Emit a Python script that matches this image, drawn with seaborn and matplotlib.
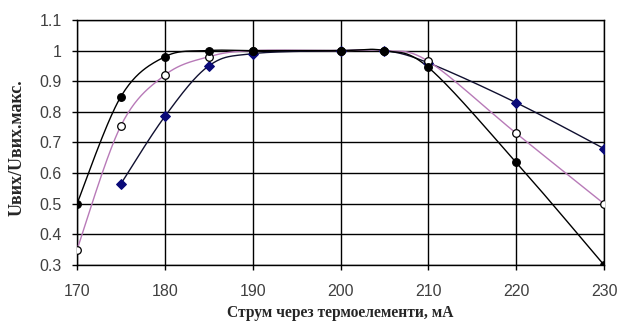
import numpy as np
import pandas as pd
import matplotlib
matplotlib.use("Agg")
import matplotlib.pyplot as plt
import seaborn as sns

# ---- data ----
x_black = [170, 175, 180, 185, 190, 200, 205, 210, 220, 230]
y_black = [0.50, 0.85, 0.98, 1.00, 1.00, 1.00, 1.00, 0.945, 0.635, 0.30]

x_open = [170, 175, 180, 185, 190, 200, 205, 210, 220, 230]
y_open = [0.35, 0.755, 0.92, 0.98, 1.00, 1.00, 1.00, 0.965, 0.73, 0.50]

x_diam = [175, 180, 185, 190, 200, 205, 210, 220, 230]
y_diam = [0.565, 0.785, 0.95, 0.99, 1.00, 1.00, 0.96, 0.83, 0.68]

x_ticks = [170, 180, 190, 200, 210, 220, 230]
y_ticks = [0.3, 0.4, 0.5, 0.6, 0.7, 0.8, 0.9, 1.0, 1.1]
y_tick_labels = ["0.3", "0.4", "0.5", "0.6", "0.7", "0.8", "0.9", "1", "1.1"]

xlabel = "Струм через термоелементи, мА"
ylabel = "Uвих/Uвих.макс."


def smooth(xs, ys, sx=60.0, sy=1.72, n=40):
    """Excel-like parametric Bezier smoothing through the data points."""
    P = np.column_stack([np.asarray(xs, float) / sx, np.asarray(ys, float) / sy])
    out = []
    for i in range(len(P) - 1):
        p0 = P[i - 1] if i > 0 else P[i]
        p1 = P[i]
        p2 = P[i + 1]
        p3 = P[i + 2] if i + 2 < len(P) else P[i + 1]
        c1 = p1 + (p2 - p0) / 6.0
        c2 = p2 - (p3 - p1) / 6.0
        t = np.linspace(0, 1, n)[:, None]
        seg = ((1 - t) ** 3) * p1 + 3 * ((1 - t) ** 2) * t * c1 + 3 * (1 - t) * t ** 2 * c2 + t ** 3 * p2
        out.append(seg if i == 0 else seg[1:])
    pts = np.vstack(out)
    return pts[:, 0] * sx, pts[:, 1] * sy


sns.set_style("white")
plt.rcParams["font.family"] = ["Liberation Sans", "DejaVu Sans"]

fig = plt.figure(figsize=(6.24, 3.22), dpi=100)
ax = fig.add_axes([0.1234, 0.177, 0.8446, 0.761])

# drawn bottom to top: diamonds, open circles, filled circles
series = [
    (x_diam, y_diam, "#101030", "D", "#0a0a78", "#0a0a78"),
    (x_open, y_open, "#b87ab8", "o", "white", "#000000"),
    (x_black, y_black, "#000000", "o", "#000000", "#000000"),
]

for xs, ys, lc, mk, fc, ec in series:
    cx, cy = smooth(xs, ys)
    sns.lineplot(x=cx, y=cy, ax=ax, color=lc, linewidth=1.0, sort=False,
                 estimator=None, zorder=3)
for k, (xs, ys, lc, mk, fc, ec) in enumerate(series):
    sns.scatterplot(x=xs, y=ys, ax=ax, marker=mk, s=30 if mk == "o" else 24,
                    color=fc, edgecolor=ec, linewidth=0.9, zorder=4 + k)

ax.set_xlim(170, 230)
ax.set_ylim(0.3, 1.1)
ax.set_xticks(x_ticks)
ax.set_yticks(y_ticks)
ax.set_yticklabels(y_tick_labels)
ax.grid(True, color="#000000", linewidth=1.0)
ax.set_axisbelow(True)
for sp in ax.spines.values():
    sp.set_visible(True)
    sp.set_color("#000000")
    sp.set_linewidth(1.0)
ax.tick_params(axis="both", labelsize=11.5, length=3.6, width=1.0, direction="out",
               color="#000000", labelcolor="#404040", bottom=True, left=True)
ax.tick_params(axis="x", pad=10.4)
ax.tick_params(axis="y", pad=7.4)

ax.set_xlabel(xlabel, fontsize=11.2, fontweight="bold", family=["Liberation Serif"])
ax.set_ylabel(ylabel, fontsize=13, fontweight="bold", family=["Liberation Serif"])
ax.xaxis.set_label_coords(0.5, -0.163)
ax.yaxis.set_label_coords(-0.097, 0.478)

fig.savefig("out.png", dpi=100, facecolor="white")
